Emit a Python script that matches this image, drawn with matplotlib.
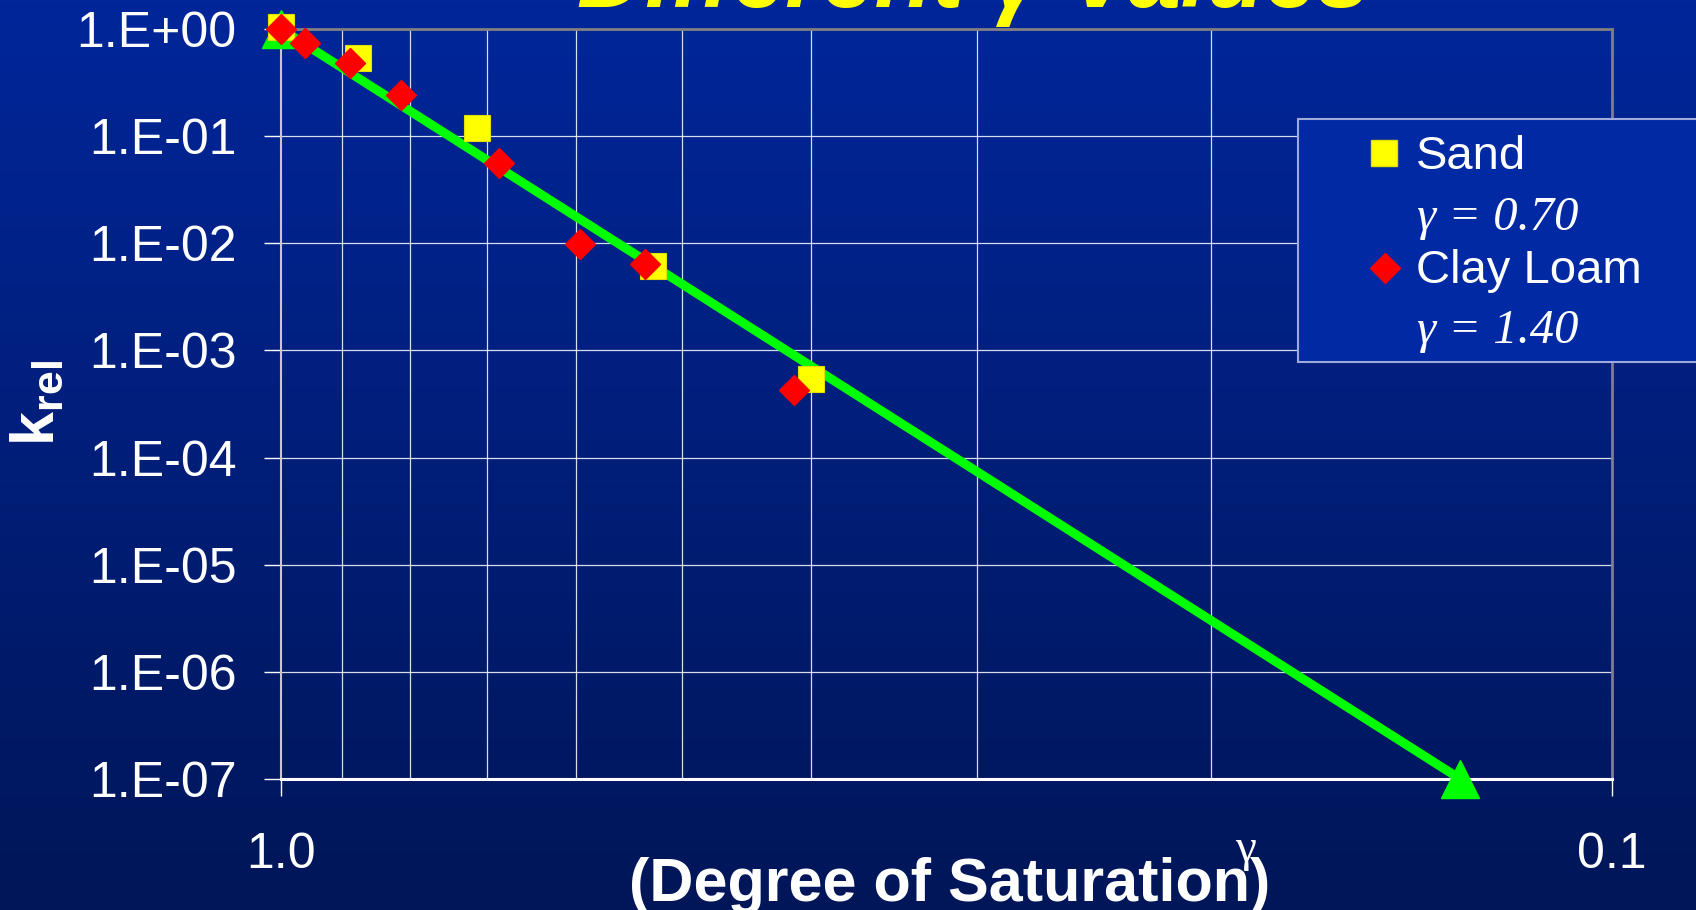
import numpy as np
import matplotlib
matplotlib.use('Agg')
import matplotlib.pyplot as plt
from matplotlib.lines import Line2D
from matplotlib.patches import Rectangle
from matplotlib.ticker import FixedLocator, NullFormatter, LogLocator

plt.rcParams['font.family'] = ['Liberation Sans', 'DejaVu Sans']
plt.rcParams['mathtext.fontset'] = 'custom'
plt.rcParams['mathtext.rm'] = 'Liberation Sans'
plt.rcParams['mathtext.bf'] = 'Liberation Sans:bold'

# degree of saturation vs relative permeability
sand_s = [1.0, 0.876, 0.712, 0.525, 0.40]
sand_k = [1.04, 0.533, 0.120, 0.00614, 0.000546]
clay_s = [1.0, 0.960, 0.887, 0.812, 0.686, 0.596, 0.533, 0.412]
clay_k = [1.0, 0.739, 0.486, 0.242, 0.0559, 0.00978, 0.00644, 0.000423]
fit_s = [1.0, 0.130]
fit_k = [1.0, 1e-7]

ytick_vals = [1e0, 1e-1, 1e-2, 1e-3, 1e-4, 1e-5, 1e-6, 1e-7]
ytick_labels = ['1.E+00', '1.E-01', '1.E-02', '1.E-03', '1.E-04', '1.E-05', '1.E-06', '1.E-07']
xtick_vals = [1.0, 0.1]
xtick_labels = ['1.0', '0.1']

W, H = 1696, 910
fig = plt.figure(figsize=(W / 100, H / 100), dpi=100)

# background gradient
bg = fig.add_axes([0, 0, 1, 1], zorder=-10)
top = np.array([0x00, 0x26, 0x9a]) / 255
bot = np.array([0x00, 0x16, 0x58]) / 255
t = np.linspace(0, 1, 256)[:, None]
grad = (top[None, :] * (1 - t) + bot[None, :] * t)[:, None, :]
bg.imshow(grad, aspect='auto', extent=[0, 1, 0, 1])
bg.axis('off')

ax = fig.add_axes([281 / W, 1 - 779 / H, (1612 - 281) / W, (779 - 29) / H])
ax.patch.set_alpha(0)
ax.set_xscale('log')
ax.set_yscale('log')
ax.set_xlim(1.0, 0.1)
ax.set_ylim(1e-7, 1.0)

ax.plot(fit_s, fit_k, color='#00ff00', lw=6.5, marker='^', ms=28,
        clip_on=False, zorder=3)
ax.plot(sand_s, sand_k, ls='none', marker='s', ms=19, mfc='#ffff00',
        mec='#e0e000', mew=0.8, clip_on=False, zorder=4)
ax.plot(clay_s, clay_k, ls='none', marker='D', ms=15, mfc='#ff0000',
        mec='#ff0000', clip_on=False, zorder=5)

ax.yaxis.set_major_locator(FixedLocator(ytick_vals))
ax.set_yticklabels(ytick_labels)
ax.yaxis.set_minor_locator(FixedLocator([]))
ax.xaxis.set_major_locator(FixedLocator(xtick_vals))
ax.set_xticklabels(xtick_labels)
ax.xaxis.set_minor_locator(LogLocator(base=10, subs=np.arange(2, 10)))
ax.xaxis.set_minor_formatter(NullFormatter())

ax.tick_params(axis='y', which='major', length=12, width=1, color='white',
               pad=20, labelsize=36, labelcolor='white')
ax.tick_params(axis='x', which='major', length=12, width=1, color='white',
               pad=26, labelsize=36, labelcolor='white')
ax.tick_params(axis='x', which='minor', length=0)

ax.grid(True, axis='y', which='major', color='white', lw=0.9, alpha=0.85)
ax.grid(True, axis='x', which='minor', color='white', lw=0.9, alpha=0.85)

ax.spines['top'].set_color('#808080')
ax.spines['right'].set_color('#808080')
ax.spines['top'].set_linewidth(2)
ax.spines['right'].set_linewidth(2)
ax.spines['left'].set_color('#c8c8c8')
ax.spines['left'].set_linewidth(1.5)
ax.spines['bottom'].set_color('white')
ax.spines['bottom'].set_linewidth(2.2)

# title, cut by the top edge as in the slide
fig.text(973 / W, 1 - 7 / H, 'Different γ Values', color='#ffff00',
         fontsize=68, weight='bold', style='italic', ha='center', va='baseline')

fig.text(38 / W, 1 - 403 / H, r'$\mathbf{k}_{\mathbf{rel}}$', color='white',
         fontsize=44, rotation=90, ha='center', va='center')
fig.text(950 / W, 1 - 901 / H, '(Degree of Saturation)', color='white',
         fontsize=44, weight='bold', ha='center', va='baseline')
fig.text(1246 / W, 1 - 850 / H, 'γ', color='white', family='Liberation Serif',
         fontsize=34, ha='center', va='center')

# legend box
fig.add_artist(Rectangle((1298 / W, 1 - 362 / H), (1700 - 1298) / W, (362 - 119) / H,
                         transform=fig.transFigure, facecolor='#0029a3',
                         edgecolor='#a0aad8', lw=1.5, zorder=6))
fig.add_artist(Line2D([1384 / W], [1 - 153 / H], marker='s', ms=19, ls='none',
                      mfc='#ffff00', mec='#e0e000', transform=fig.transFigure, zorder=7))
fig.add_artist(Line2D([1385 / W], [1 - 268 / H], marker='D', ms=15, ls='none',
                      mfc='#ff0000', mec='#ff0000', transform=fig.transFigure, zorder=7))
fig.text(1416 / W, 1 - 169 / H, 'Sand', color='white', fontsize=34,
         va='baseline', zorder=7)
fig.text(1417 / W, 1 - 230 / H, 'γ = 0.70', color='white', fontsize=35,
         family='Liberation Serif', style='italic', va='baseline', zorder=7)
fig.text(1416 / W, 1 - 283 / H, 'Clay Loam', color='white', fontsize=34,
         va='baseline', zorder=7)
fig.text(1417 / W, 1 - 343 / H, 'γ = 1.40', color='white', fontsize=35,
         family='Liberation Serif', style='italic', va='baseline', zorder=7)

fig.savefig('out.png', dpi=100)
